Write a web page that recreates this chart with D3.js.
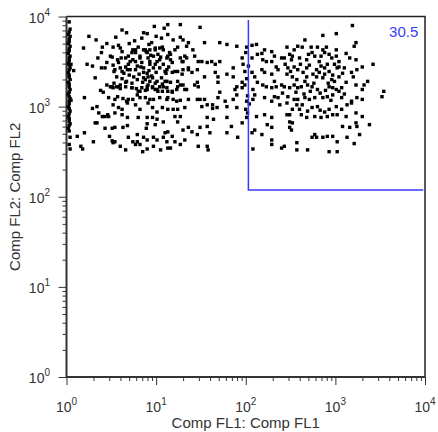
<!DOCTYPE html>
<html>
<head>
<meta charset="utf-8">
<script src="https://cdnjs.cloudflare.com/ajax/libs/d3/7.8.5/d3.min.js"></script>
<style>
  body { margin: 0; background: #fff; }
  text { font-family: Arial, "Liberation Sans", sans-serif; }
</style>
</head>
<body>
<svg width="438" height="432"></svg>
<script>
// each event is [log10 FL1, log10 FL2]

// events piled up at the FL1 floor
var floorPile = [
  [0.03,3.94],[0.04,3.86],[0.03,3.83],[0.02,3.80],[0.04,3.78],[0.03,3.75],[0.03,3.72],[0.02,3.70],[0.04,3.67],[0.03,3.64],
  [0.03,3.62],[0.02,3.59],[0.04,3.56],[0.03,3.54],[0.03,3.51],[0.02,3.48],[0.03,3.46],[0.04,3.43],[0.03,3.41],[0.02,3.38],
  [0.03,3.35],[0.03,3.33],[0.04,3.30],[0.02,3.27],[0.03,3.25],[0.03,3.22],[0.04,3.19],[0.03,3.16],[0.02,3.14],[0.03,3.11],
  [0.04,3.09],[0.03,3.06],[0.03,3.03],[0.02,3.00],[0.03,2.98],[0.04,2.95],[0.03,2.92],[0.02,2.89],[0.03,2.87],[0.03,2.84],
  [0.04,2.81],[0.03,2.79],[0.02,2.76],[0.03,2.73],[0.05,3.47],[0.05,3.07],[0.04,2.66],[0.03,2.58],[0.04,2.53]
];

// FL1 below ~10^1.2
var leftCloud = [
  [0.19,3.65],[0.33,3.74],[0.67,3.82],[0.86,3.82],[0.90,3.81],[0.84,3.76],[1.06,3.76],[1.09,3.87],[1.13,3.91],
  [0.39,3.60],[0.35,3.54],[0.49,3.56],[0.51,3.55],[0.58,3.68],[0.60,3.65],[0.61,3.54],[0.69,3.56],[0.73,3.60],[0.77,3.63],
  [0.86,3.63],[0.89,3.61],[0.93,3.63],[0.99,3.65],[1.04,3.65],[1.08,3.63],
  [0.23,3.47],[0.29,3.45],[0.08,3.40],[0.39,3.43],[0.43,3.43],[0.45,3.49],[0.53,3.39],[0.58,3.49],[0.60,3.43],[0.64,3.37],
  [0.69,3.47],[0.71,3.41],[0.77,3.50],[0.79,3.45],[0.82,3.56],[0.84,3.49],[0.86,3.43],[0.91,3.54],[0.93,3.47],[0.90,3.37],
  [0.97,3.56],[1.01,3.50],[1.04,3.43],[1.08,3.47],[1.12,3.54],[1.11,3.37],
  [0.32,3.32],[0.45,3.24],[0.49,3.22],[0.53,3.26],[0.56,3.22],[0.60,3.24],[0.67,3.28],[0.73,3.26],[0.79,3.30],[0.86,3.32],
  [0.90,3.22],[0.93,3.28],[0.99,3.26],[1.04,3.22],[1.10,3.28],
  [0.75,3.33],[0.81,3.36],[0.88,3.30],[0.95,3.34],[1.00,3.38],[1.06,3.32],[0.92,3.40],[0.97,3.43],[0.85,3.27],[0.78,3.20],
  [0.88,3.18],[0.96,3.21],[1.02,3.17],[1.07,3.25],[0.70,3.35],[0.62,3.31],[0.83,3.44],[0.99,3.47],[1.14,3.44],[0.74,3.52],
  [0.66,3.44],[0.56,3.33],[0.52,3.46],[0.94,3.57],[1.02,3.58],[1.15,3.60],[0.80,3.66],[0.70,3.70],[0.95,3.71],[1.05,3.55],
  [0.45,3.70],[0.55,3.77],[0.76,3.73],[0.92,3.69],[1.00,3.78],[0.62,3.85],[0.98,3.89],[0.25,3.78],[0.40,3.66],
  [0.52,3.66],[0.62,3.61],[0.74,3.63],[0.77,3.60],[0.88,3.63],[0.90,3.60],[0.99,3.63],[1.07,3.66],[1.16,3.58],
  [0.57,3.52],[0.66,3.54],[0.71,3.50],[0.82,3.54],[0.93,3.50],[1.04,3.52],[1.18,3.49],
  [0.54,3.41],[0.62,3.39],[0.68,3.41],[0.77,3.41],[0.86,3.38],[0.91,3.33],[0.96,3.32],[1.01,3.28],[1.10,3.39],
  [0.51,3.22],[0.58,3.22],[0.66,3.27],[0.73,3.21],[0.82,3.17],[0.91,3.24],[0.99,3.19],[1.08,3.22],[1.18,3.17],
  [0.57,3.11],[0.67,3.06],[0.79,3.13],[0.88,3.10],[0.97,3.08],[1.13,3.10],
  [0.38,3.18],[0.41,3.16],[0.52,3.21],[0.60,3.20],[0.66,3.22],[0.73,3.21],[0.80,3.17],[0.84,3.21],[0.90,3.19],[0.96,3.22],
  [1.01,3.19],[1.07,3.17],[1.12,3.21],
  [0.20,3.10],[0.47,3.10],[0.54,3.08],[0.63,3.09],[0.69,3.08],[0.74,3.08],[0.82,3.10],[0.93,3.08],[1.04,3.10],[1.12,3.08],
  [0.29,2.98],[0.34,3.00],[0.52,3.02],[0.58,2.99],[0.62,2.97],[0.68,3.04],[0.77,3.02],[0.82,2.97],[0.91,3.04],[0.96,2.99],
  [1.01,2.94],[1.07,2.99],[1.13,2.97],
  [0.36,2.93],[0.40,2.89],[0.43,2.89],[0.47,2.89],[0.54,2.93],[0.62,2.91],[0.68,2.88],[0.80,2.88],[0.90,2.88],[0.96,2.88],
  [1.01,2.86],[1.08,2.83],
  [0.32,2.82],[0.43,2.76],[0.51,2.76],[0.63,2.77],[0.68,2.79],[0.90,2.81],[0.89,2.76],[0.99,2.80],
  [0.12,2.67],[0.20,2.71],[0.48,2.67],[0.51,2.62],[0.52,2.60],[0.69,2.66],[0.79,2.69],[0.79,2.61],[0.86,2.66],[0.90,2.63],
  [0.97,2.66],[1.01,2.63],[1.08,2.66],[1.10,2.71],[1.13,2.72],
  [0.16,2.56],[0.18,2.53],[0.30,2.61],[0.77,2.58],[0.90,2.53],[1.13,2.54],[1.12,2.61],
  [0.46,2.91],[0.34,2.82],[0.54,2.77],[0.54,2.61],[0.60,2.56],[0.74,2.61],[0.82,2.58],[0.97,2.56],[0.85,2.50],[1.05,2.52],
  [0.66,2.52]
];

// FL1 between ~10^1.1 and 10^2.3
var midCloud = [
  [1.27,3.91],[1.49,3.88],[1.13,3.80],[1.19,3.74],[1.27,3.77],[1.30,3.74],[1.36,3.71],[1.34,3.67],[1.24,3.66],[1.21,3.63],
  [1.41,3.63],[1.54,3.71],[1.71,3.71],[1.79,3.69],[1.90,3.67],[2.01,3.66],[2.07,3.68],[2.12,3.69],[2.18,3.59],[2.21,3.63],
  [2.29,3.61],[1.32,3.56],[1.29,3.50],[1.21,3.39],[1.29,3.36],[1.36,3.41],[1.27,3.24],[1.34,3.19],[1.23,3.06],
  [1.13,3.56],[1.16,3.52],[1.27,3.54],[1.30,3.50],[1.34,3.54],[1.43,3.56],[1.47,3.50],[1.51,3.50],[1.57,3.49],[1.62,3.50],
  [1.66,3.47],[1.71,3.50],[1.86,3.43],[1.96,3.54],[1.97,3.47],[2.07,3.54],[2.13,3.58],[2.19,3.52],[2.23,3.50],[2.29,3.50],
  [1.12,3.41],[1.18,3.38],[1.24,3.39],[1.30,3.41],[1.36,3.43],[1.40,3.38],[1.46,3.41],[1.54,3.33],[1.66,3.38],[1.69,3.33],
  [1.79,3.36],[1.86,3.33],[1.99,3.39],[2.07,3.38],[2.10,3.33],[2.18,3.41],[2.21,3.38],[2.29,3.36],
  [1.12,3.28],[1.16,3.27],[1.24,3.28],[1.30,3.24],[1.46,3.27],[1.43,3.24],[1.69,3.27],[1.90,3.22],[1.96,3.27],[1.99,3.24],
  [2.13,3.27],[2.19,3.24],[2.23,3.22],
  [2.00,3.60],[2.03,3.45],[2.01,3.31],[2.02,3.12],[2.00,2.97],[2.04,3.03],
  [1.13,3.17],[1.18,3.16],[1.23,3.19],[1.32,3.19],[1.24,3.22],[1.47,3.22],[1.71,3.16],[1.69,3.10],[1.77,3.06],[1.88,3.19],
  [1.90,3.13],[1.96,3.21],[2.08,3.19],[2.10,3.13],[2.29,3.21],
  [1.19,3.08],[1.27,3.07],[1.36,3.08],[1.46,3.08],[1.49,3.08],[1.54,3.08],[1.51,3.00],[1.57,3.02],[1.63,3.02],[1.63,2.98],
  [1.68,2.99],[1.79,3.00],[1.86,3.08],[1.90,2.99],[2.01,3.06],[2.08,3.08],[2.21,3.10],[2.29,3.06],
  [1.19,2.97],[1.24,2.97],[1.32,2.99],[1.21,2.89],[1.27,2.89],[1.24,2.83],[1.57,2.88],[1.64,2.86],[1.79,2.88],[1.84,2.78],
  [1.96,2.82],[2.01,2.88],[2.02,2.93],[2.12,2.89],[2.21,2.91],[2.29,2.88],
  [1.30,2.74],[1.36,2.77],[1.40,2.72],[1.46,2.69],[1.49,2.77],[1.57,2.78],[1.60,2.71],[1.79,2.71],[2.10,2.74],[2.07,2.71],
  [2.18,2.69],[2.29,2.77],[2.24,2.80],
  [1.18,2.67],[1.21,2.61],[1.27,2.58],[1.32,2.63],[1.16,2.54],[1.47,2.56],[1.57,2.56],[1.58,2.52],[1.91,2.66],[2.08,2.53],
  [2.29,2.63],[2.29,2.58]
];

// FL1 above ~10^2.3
var rightCloud = [
  [3.19,3.90],[3.01,3.81],[2.86,3.79],[2.66,3.74],[3.23,3.71],[3.21,3.67],
  [2.46,3.66],[2.54,3.63],[2.58,3.67],[2.63,3.66],[2.73,3.66],[2.80,3.66],[2.86,3.63],[2.90,3.66],[3.01,3.63],
  [2.32,3.56],[2.40,3.54],[2.43,3.54],[2.49,3.58],[2.51,3.52],[2.60,3.54],[2.68,3.52],[2.74,3.60],[2.77,3.56],[2.82,3.50],
  [2.88,3.60],[2.93,3.58],[2.96,3.54],[3.01,3.56],[3.04,3.50],[3.16,3.54],[3.23,3.52],[3.04,3.44],
  [2.34,3.44],[2.36,3.41],[2.47,3.43],[2.54,3.44],[2.58,3.41],[2.68,3.43],[2.79,3.41],[2.82,3.38],[2.88,3.43],[2.91,3.47],
  [2.99,3.47],[3.02,3.43],[3.10,3.43],[3.18,3.38],[3.24,3.41],[3.30,3.44],[3.42,3.47],
  [2.44,3.47],[2.50,3.39],[2.61,3.47],[2.64,3.38],[2.71,3.46],[2.75,3.36],[2.84,3.45],[2.93,3.39],[2.97,3.35],[3.08,3.37],
  [2.56,3.16],[2.65,3.14],[2.72,3.17],[2.83,3.15],[2.89,3.18],[2.95,3.07],[3.10,3.14],[2.41,3.15],[2.52,3.56],[2.70,3.58],
  [2.84,3.56],[3.12,3.59],[2.66,3.28],[2.76,3.26],[2.92,3.26],[3.12,3.27],[2.52,2.97],[2.69,2.95],[2.83,2.96],[3.20,3.33],
  [2.46,3.36],[2.52,3.33],[2.57,3.30],[2.68,3.33],[2.79,3.33],[2.86,3.32],[2.88,3.36],[2.96,3.30],[2.99,3.28],[3.04,3.33],
  [3.23,3.24],[3.32,3.24],[3.36,3.28],
  [2.32,3.28],[2.40,3.24],[2.43,3.22],[2.54,3.24],[2.58,3.21],[2.62,3.22],[2.69,3.24],[2.74,3.22],
  [2.34,3.22],[2.49,3.21],[2.80,3.19],[2.93,3.22],[2.97,3.21],[3.01,3.19],[3.04,3.17],[3.07,3.21],[3.30,3.19],[3.54,3.17],
  [3.52,3.11],
  [2.32,3.11],[2.36,3.10],[2.47,3.11],[2.54,3.08],[2.58,3.08],[2.66,3.10],[2.71,3.08],[2.77,3.10],[2.86,3.10],[2.91,3.11],
  [2.97,3.13],[3.07,3.10],[3.18,3.06],[3.24,3.10],[3.30,3.08],
  [2.38,3.02],[2.46,3.04],[2.57,3.02],[2.60,2.97],[2.63,3.02],[2.74,2.99],[2.80,3.00],[2.88,2.94],[2.93,2.97],[3.01,3.00],
  [3.07,2.97],[3.13,3.02],[3.18,3.04],
  [2.46,2.91],[2.49,2.91],[2.62,2.91],[2.68,2.88],[2.77,2.89],[2.84,2.88],[2.91,2.89],[2.97,2.91],[3.02,2.91],[3.12,2.89],
  [3.23,2.93],[3.30,2.89],
  [2.49,2.83],[2.52,2.82],[3.08,2.78],[3.16,2.77],[3.23,2.82],[3.24,2.78],[3.38,2.80],
  [2.49,2.77],[2.51,2.74],[2.77,2.69],[2.74,2.66],[2.79,2.66],[2.86,2.66],[2.91,2.67],[2.97,2.67],[3.02,2.61],[3.13,2.66],
  [3.27,2.69],[3.21,2.59],
  [2.40,2.54],[2.43,2.56],[2.57,2.60],[2.57,2.52],[2.69,2.52],[2.93,2.50],[3.02,2.50]
];

var decades = [1, 10, 100, 1000, 10000];
var gateFL1 = [107, 9570];
var gateFL2 = [119, 9140];
var gateLabel = "30.5";
var xTitle = "Comp FL1: Comp FL1";
var yTitle = "Comp FL2: Comp FL2";

var svg = d3.select("svg");
var plotL = 66.5, plotR = 425, plotT = 16.5, plotB = 377;

var x = d3.scaleLog().domain([1, 10000]).range([plotL, plotR]);
var y = d3.scaleLog().domain([1, 10000]).range([plotB, plotT]);

var minor = x.ticks().filter(function(v) { return decades.indexOf(v) < 0; });

// frame, top and right
svg.append("path")
  .attr("d", "M" + plotL + "," + plotT + "H" + plotR + "V" + plotB)
  .attr("fill", "none")
  .attr("stroke", "#222")
  .attr("stroke-width", 1.5);

// axes
function styleAxis(g) {
  g.select(".domain").remove();
  g.selectAll("line").attr("stroke", "#333");
}
svg.append("g").attr("transform", "translate(0," + plotB + ")")
  .call(d3.axisBottom(x).tickValues(minor).tickSize(4).tickFormat(""))
  .call(styleAxis);
svg.append("g").attr("transform", "translate(0," + plotB + ")")
  .call(d3.axisBottom(x).tickValues(decades).tickSize(8).tickFormat(""))
  .call(styleAxis);
svg.append("g").attr("transform", "translate(" + plotL + ",0)")
  .call(d3.axisLeft(y).tickValues(minor).tickSize(4).tickFormat(""))
  .call(styleAxis);
svg.append("g").attr("transform", "translate(" + plotL + ",0)")
  .call(d3.axisLeft(y).tickValues(decades).tickSize(8).tickFormat(""))
  .call(styleAxis);

svg.append("path")
  .attr("d", "M" + plotL + "," + plotT + "V" + plotB + "H" + plotR)
  .attr("fill", "none")
  .attr("stroke", "#333")
  .attr("stroke-width", 2);

// tick labels as 10 with superscript exponent
function powLabel(sel) {
  sel.append("tspan").text("10");
  sel.append("tspan")
    .attr("dy", -7)
    .attr("font-size", 10)
    .text(function(d) { return Math.round(Math.log10(d)); });
}
svg.append("g").selectAll("text").data(decades).join("text")
  .attr("x", function(d) { return x(d); })
  .attr("y", 412)
  .attr("text-anchor", "middle")
  .attr("font-size", 14)
  .attr("fill", "#333")
  .call(powLabel);
svg.append("g").selectAll("text").data(decades).join("text")
  .attr("x", 50)
  .attr("y", function(d) { return y(d) + 6; })
  .attr("text-anchor", "end")
  .attr("font-size", 14)
  .attr("fill", "#333")
  .call(powLabel);

// axis titles
svg.append("text")
  .attr("x", (plotL + plotR) / 2)
  .attr("y", 428)
  .attr("text-anchor", "middle")
  .attr("font-size", 15)
  .attr("fill", "#333")
  .text(xTitle);
svg.append("text")
  .attr("transform", "translate(20," + (plotT + plotB) / 2 + ") rotate(-90)")
  .attr("text-anchor", "middle")
  .attr("font-size", 15)
  .attr("fill", "#333")
  .text(yTitle);

// events
var events = floorPile.concat(leftCloud, midCloud, rightCloud);
svg.append("g").selectAll("rect").data(events).join("rect")
  .attr("x", function(d) { return x(Math.pow(10, d[0])) - 1.7; })
  .attr("y", function(d) { return y(Math.pow(10, d[1])) - 1.7; })
  .attr("width", 3.4)
  .attr("height", 3.4)
  .attr("fill", "#000");

// quadrant gate
svg.append("path")
  .attr("d", "M" + x(gateFL1[0]) + "," + y(gateFL2[1]) +
             "V" + y(gateFL2[0]) + "H" + x(gateFL1[1]))
  .attr("fill", "none")
  .attr("stroke", "#3a3aff")
  .attr("stroke-width", 1.5);
svg.append("text")
  .attr("x", x(gateFL1[1]) - 5)
  .attr("y", y(gateFL2[1]) + 17)
  .attr("text-anchor", "end")
  .attr("font-size", 15)
  .attr("fill", "#3a3aff")
  .text(gateLabel);
</script>
</body>
</html>
